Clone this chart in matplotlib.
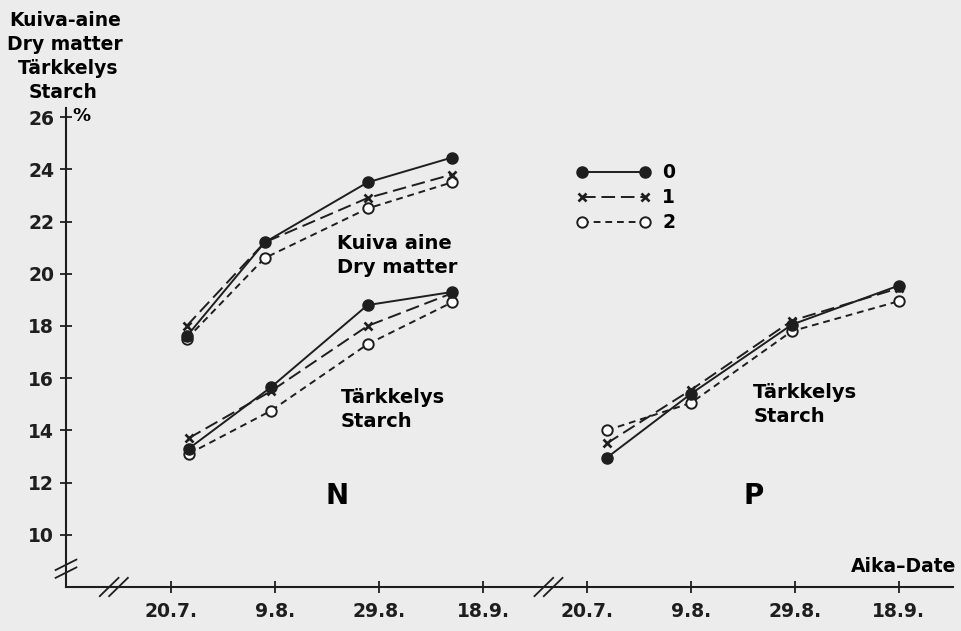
import matplotlib
matplotlib.use("Agg")
import matplotlib.pyplot as plt
from matplotlib.lines import Line2D

plt.rcParams["font.family"] = ["DejaVu Sans"]
plt.rcParams["font.weight"] = "bold"

BG = "#ececec"
INK = "#1e1e1e"

# x positions in "tick steps": ticks 0..3 = N panel, 4..7 = P panel (20 day steps)
tick_pos = [0, 1, 2, 3, 4, 5, 6, 7]
tick_labels = ["20.7.", "9.8.", "29.8.", "18.9.", "20.7.", "9.8.", "29.8.", "18.9."]
y_ticks = [10, 12, 14, 16, 18, 20, 22, 24, 26]

# N: dry matter (Kuiva aine)
dm_x_n = [0.15, 0.90, 1.89, 2.70]
dm_n_0 = [17.6, 21.2, 23.5, 24.45]
dm_n_1 = [18.0, 21.2, 22.9, 23.8]
dm_n_2 = [17.5, 20.6, 22.5, 23.5]

# N: starch (Tärkkelys)
st_x_n = [0.17, 0.96, 1.89, 2.70]
st_n_0 = [13.3, 15.65, 18.8, 19.3]
st_n_1 = [13.7, 15.5, 18.0, 19.25]
st_n_2 = [13.1, 14.75, 17.3, 18.9]

# P: starch (Tärkkelys)
st_x_p = [4.19, 5.0, 5.97, 7.0]
st_p_0 = [12.95, 15.4, 18.05, 19.55]
st_p_1 = [13.5, 15.55, 18.2, 19.45]
st_p_2 = [14.0, 15.05, 17.8, 18.95]

styles = {
    "0": dict(color=INK, lw=1.4, ls="-", marker="o", ms=8, mfc=INK, mec=INK),
    "1": dict(color=INK, lw=1.4, ls=(0, (7, 3)), marker="x", ms=5.5, mew=1.9, mec=INK),
    "2": dict(color=INK, lw=1.4, ls=(0, (3.5, 2.5)), marker="o", ms=7.5, mfc="white", mec=INK, mew=1.4),
}

fig = plt.figure(figsize=(9.62, 6.31), dpi=100, facecolor=BG)
ax = fig.add_axes([66 / 962, 44 / 631, 887 / 962, 479 / 631])
ax.set_facecolor(BG)

groups = [(dm_x_n, [dm_n_0, dm_n_1, dm_n_2]),
          (st_x_n, [st_n_0, st_n_1, st_n_2]),
          (st_x_p, [st_p_0, st_p_1, st_p_2])]
for xs, series in groups:
    for key, ys in zip(["2", "1", "0"], series[::-1]):
        ax.plot(xs, ys, **styles[key], zorder=3)

ax.set_xlim(-1.01, 7.52)
ax.set_ylim(8, 26.35)
for s in ["top", "right"]:
    ax.spines[s].set_visible(False)
for s in ["left", "bottom"]:
    ax.spines[s].set_color(INK)
    ax.spines[s].set_linewidth(1.5)

ax.set_xticks(tick_pos)
ax.set_xticklabels(tick_labels)
ax.set_yticks(y_ticks)
ax.tick_params(direction="inout", length=9, width=1.3, colors=INK,
               labelsize=13.5, pad=4)
ax.tick_params(axis="x", pad=6)
for lab in ax.get_xticklabels() + ax.get_yticklabels():
    lab.set_fontweight("bold")

# axis breaks
def brk_x(xc):
    for dx in (-0.045, 0.045):
        ax.plot([xc + dx - 0.09, xc + dx + 0.09], [8 - 0.35, 8 + 0.35],
                color=INK, lw=1.3, clip_on=False, zorder=4)

brk_x(-0.55)
brk_x(3.63)
for dy in (-0.15, 0.15):
    ax.plot([-1.11, -0.91], [8.7 + dy - 0.2, 8.7 + dy + 0.2],
            color=INK, lw=1.3, clip_on=False, zorder=4)

# texts
ax.text(-0.95, 26.05, "%", fontsize=13, va="center", ha="left")
fig.text(65 / 962, 1 - 21 / 631, "Kuiva-aine", fontsize=13.5, ha="center", va="center")
fig.text(65 / 962, 1 - 45 / 631, "Dry matter", fontsize=13.5, ha="center", va="center")
fig.text(68 / 962, 1 - 69 / 631, "Tärkkelys", fontsize=13.5, ha="center", va="center")
fig.text(63 / 962, 1 - 92 / 631, "Starch", fontsize=13.5, ha="center", va="center")

ax.text(1.6, 20.7, "Kuiva aine\nDry matter", fontsize=14, ha="left", va="center",
        linespacing=1.3)
ax.text(1.63, 14.8, "Tärkkelys\nStarch", fontsize=14, ha="left", va="center",
        linespacing=1.3)
ax.text(5.6, 15.0, "Tärkkelys\nStarch", fontsize=14, ha="left", va="center",
        linespacing=1.3)
ax.text(1.6, 11.5, "N", fontsize=20, ha="center", va="center")
ax.text(5.6, 11.5, "P", fontsize=20, ha="center", va="center")
ax.text(7.55, 8.8, "Aika–Date", fontsize=13.5, ha="right", va="center")

handles = [Line2D([], [], **styles[k]) for k in ["0", "1", "2"]]
leg = ax.legend(handles, ["0", "1", "2"], numpoints=2, frameon=False,
                handlelength=4.0, loc="upper left", bbox_to_anchor=(0.556, 0.92),
                fontsize=13.5, labelspacing=0.32, handletextpad=0.6)
for t in leg.get_texts():
    t.set_fontweight("bold")

fig.savefig("out.png", dpi=100, facecolor=BG)
